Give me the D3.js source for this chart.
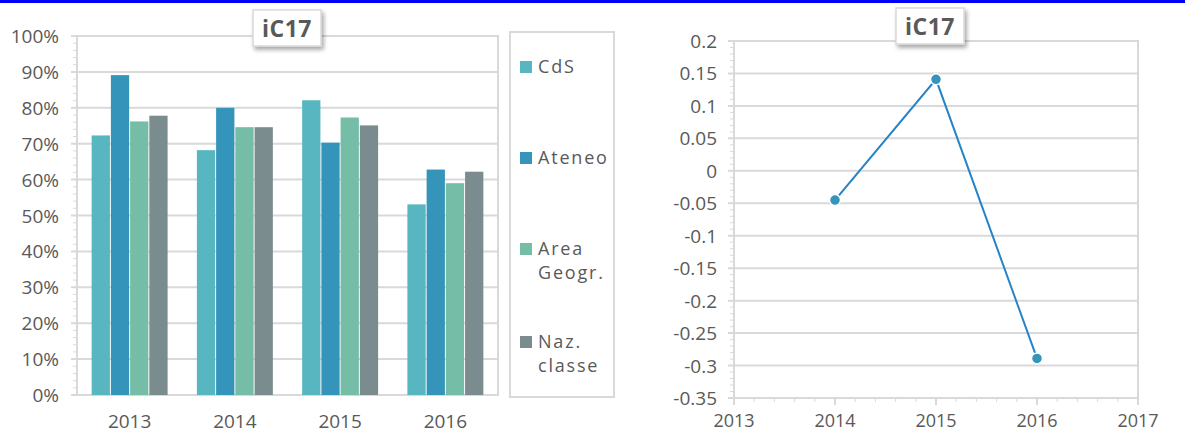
<!DOCTYPE html>
<html>
<head>
<meta charset="utf-8">
<script src="https://cdn.jsdelivr.net/npm/d3@7"></script>
<style>
  body { margin: 0; background: #fff; }
  svg text { font-family: "Open Sans", "Liberation Sans", sans-serif; fill: #595959; }
</style>
</head>
<body>
<div id="chart"></div>
<script>
// data
const years = ["2013", "2014", "2015", "2016"];
const seriesNames = ["CdS", "Ateneo", "Area Geogr.", "Naz. classe"];
const cds = [0.723, 0.682, 0.821, 0.531];
const ateneo = [0.891, 0.800, 0.703, 0.628];
const areaGeogr = [0.762, 0.746, 0.773, 0.590];
const nazClasse = [0.778, 0.746, 0.751, 0.622];
const barColors = ["#58B6C0", "#3494BA", "#75BDA7", "#7A8C8E"];

const trendYears = [2014, 2015, 2016];
const trendValues = [-0.045, 0.141, -0.289];
const pctTicks = [0, 0.1, 0.2, 0.3, 0.4, 0.5, 0.6, 0.7, 0.8, 0.9, 1];
const trendTicks = [0.2, 0.15, 0.1, 0.05, 0, -0.05, -0.1, -0.15, -0.2, -0.25, -0.3, -0.35];
const trendXTicks = [2013, 2014, 2015, 2016, 2017];

const width = 1185, height = 434;
const gridColor = "#D9D9D9";

const svg = d3.select("#chart").append("svg")
    .attr("width", width)
    .attr("height", height);

// drop shadow for the title boxes
const defs = svg.append("defs");
defs.append("filter").attr("id", "shadow")
    .attr("x", "-20%").attr("y", "-20%").attr("width", "150%").attr("height", "160%")
    .append("feDropShadow")
    .attr("dx", 2).attr("dy", 3).attr("stdDeviation", 2)
    .attr("flood-color", "#000").attr("flood-opacity", 0.35);

// blue band at the top
svg.append("rect")
    .attr("x", 0).attr("y", 0)
    .attr("width", width).attr("height", 3)
    .attr("fill", "#0000F5");

function titleBox(cx, y0) {
    let g = svg.append("g");
    g.append("rect")
        .attr("x", cx - 34).attr("y", y0)
        .attr("width", 68).attr("height", 36)
        .attr("fill", "#fff")
        .attr("stroke", gridColor).attr("stroke-width", 1.5)
        .attr("filter", "url(#shadow)");
    g.append("text")
        .attr("x", cx).attr("y", y0 + 27)
        .attr("text-anchor", "middle")
        .attr("font-size", 23).attr("font-weight", "bold")
        .attr("letter-spacing", 0.5)
        .text("iC17");
}

// ---------- left chart: grouped bars ----------
const left = { x0: 77, x1: 498, y0: 36, y1: 395 };

const xBand = d3.scaleBand()
    .domain(years)
    .range([left.x0, left.x1])
    .paddingInner(0.26)
    .paddingOuter(0.13);
const xSub = d3.scaleBand()
    .domain(seriesNames)
    .range([0, xBand.bandwidth()])
    .padding(0.05);
const yPct = d3.scaleLinear().domain([0, 1]).range([left.y1, left.y0]);

// minor ticks every 2%
svg.append("g").selectAll("line")
    .data(d3.range(0, 1.001, 0.02))
    .join("line")
    .attr("x1", left.x0 - 4).attr("x2", left.x0)
    .attr("y1", d => yPct(d)).attr("y2", d => yPct(d))
    .attr("stroke", gridColor).attr("stroke-width", 1);

// gridlines + labels
svg.append("g").selectAll("line")
    .data(pctTicks)
    .join("line")
    .attr("x1", left.x0 - 6).attr("x2", left.x1)
    .attr("y1", d => yPct(d)).attr("y2", d => yPct(d))
    .attr("stroke", gridColor).attr("stroke-width", 2);

svg.append("g").selectAll("text")
    .data(pctTicks)
    .join("text")
    .attr("x", 59).attr("y", d => yPct(d) + 7)
    .attr("text-anchor", "end")
    .attr("font-size", 19)
    .text(d3.format(".0%"));

// frame
svg.append("rect")
    .attr("x", left.x0).attr("y", left.y0)
    .attr("width", left.x1 - left.x0).attr("height", left.y1 - left.y0)
    .attr("fill", "none").attr("stroke", gridColor).attr("stroke-width", 2);

const allSeries = [cds, ateneo, areaGeogr, nazClasse];
years.forEach((yr, i) => {
    let g = svg.append("g").attr("transform", `translate(${xBand(yr)},0)`);
    g.selectAll("rect")
        .data(seriesNames.map((s, j) => ({ name: s, value: allSeries[j][i], color: barColors[j] })))
        .join("rect")
        .attr("x", d => xSub(d.name))
        .attr("y", d => yPct(d.value))
        .attr("width", xSub.bandwidth())
        .attr("height", d => yPct(0) - yPct(d.value))
        .attr("fill", d => d.color);
});

svg.append("g").selectAll("text")
    .data(years)
    .join("text")
    .attr("x", d => xBand(d) + xBand.bandwidth() / 2)
    .attr("y", 428)
    .attr("text-anchor", "middle")
    .attr("font-size", 19)
    .text(d => d);

titleBox(287, 10);

// legend
svg.append("rect")
    .attr("x", 510).attr("y", 32)
    .attr("width", 104).attr("height", 365)
    .attr("fill", "#fff").attr("stroke", gridColor).attr("stroke-width", 2);

const legendY = [73, 164, 255, 348];
seriesNames.forEach((s, j) => {
    svg.append("rect")
        .attr("x", 520).attr("y", legendY[j] - 12)
        .attr("width", 12).attr("height", 12)
        .attr("fill", barColors[j]);
    let t = svg.append("text")
        .attr("x", 538).attr("y", legendY[j])
        .attr("font-size", 18)
        .attr("letter-spacing", 1.8);
    s.split(" ").forEach((w, k) => {
        t.append("tspan").attr("x", 538).attr("dy", k == 0 ? 0 : 24).text(w);
    });
});

// ---------- right chart: trend line ----------
const right = { x0: 734, x1: 1138, y0: 41, y1: 398 };
const xYear = d3.scaleLinear().domain([2013, 2017]).range([right.x0, right.x1]);
const yTrend = d3.scaleLinear().domain([-0.35, 0.2]).range([right.y1, right.y0]);

// minor ticks on y (0.01) and x (0.2 year)
svg.append("g").selectAll("line")
    .data(d3.range(-35, 21).map(d => d / 100))
    .join("line")
    .attr("x1", right.x0 - 4).attr("x2", right.x0)
    .attr("y1", d => yTrend(d)).attr("y2", d => yTrend(d))
    .attr("stroke", gridColor).attr("stroke-width", 1);
svg.append("g").selectAll("line")
    .data(d3.range(0, 21).map(d => 2013 + d * 0.2))
    .join("line")
    .attr("x1", d => xYear(d)).attr("x2", d => xYear(d))
    .attr("y1", right.y1).attr("y2", right.y1 + 4)
    .attr("stroke", gridColor).attr("stroke-width", 1);

svg.append("g").selectAll("line")
    .data(trendTicks)
    .join("line")
    .attr("x1", right.x0 - 6).attr("x2", right.x1)
    .attr("y1", d => yTrend(d)).attr("y2", d => yTrend(d))
    .attr("stroke", gridColor).attr("stroke-width", 2);
svg.append("g").selectAll("line")
    .data(trendXTicks)
    .join("line")
    .attr("x1", d => xYear(d)).attr("x2", d => xYear(d))
    .attr("y1", right.y1).attr("y2", right.y1 + 7)
    .attr("stroke", gridColor).attr("stroke-width", 2);

svg.append("rect")
    .attr("x", right.x0).attr("y", right.y0)
    .attr("width", right.x1 - right.x0).attr("height", right.y1 - right.y0)
    .attr("fill", "none").attr("stroke", gridColor).attr("stroke-width", 2);

svg.append("g").selectAll("text")
    .data(trendTicks)
    .join("text")
    .attr("x", 717).attr("y", d => yTrend(d) + 7)
    .attr("text-anchor", "end")
    .attr("font-size", 19)
    .text(d => String(+d.toFixed(2)));

svg.append("g").selectAll("text")
    .data(trendXTicks)
    .join("text")
    .attr("x", d => xYear(d)).attr("y", 427)
    .attr("text-anchor", "middle")
    .attr("font-size", 18)
    .text(d => d);

const pts = trendYears.map((y, i) => [xYear(y), yTrend(trendValues[i])]);
svg.append("path")
    .attr("d", d3.line()(pts))
    .attr("fill", "none")
    .attr("stroke", "#2683C6").attr("stroke-width", 2);
svg.append("g").selectAll("circle")
    .data(pts)
    .join("circle")
    .attr("cx", d => d[0]).attr("cy", d => d[1])
    .attr("r", 5.5)
    .attr("fill", "#3494BA")
    .attr("stroke", "#fff").attr("stroke-width", 1.5);

titleBox(930, 8);
</script>
</body>
</html>
